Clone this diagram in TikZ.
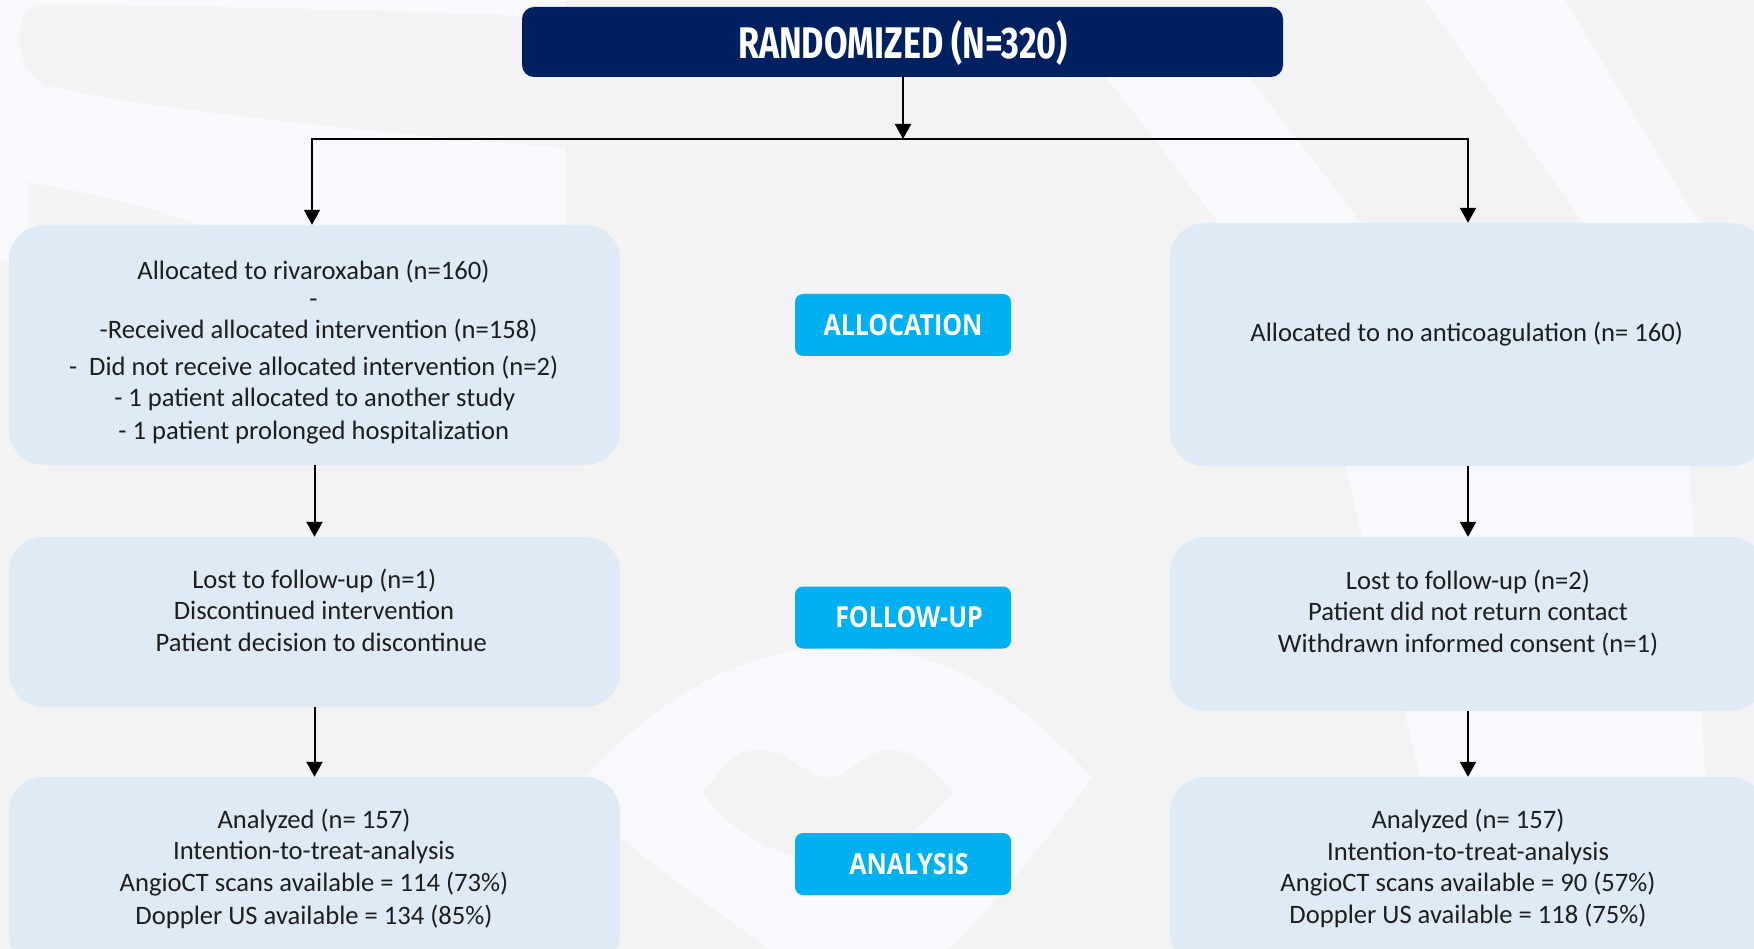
\documentclass[tikz,border=0pt]{standalone}
\usepackage{fontspec}
\usepackage{graphicx}
\setmainfont{Carlito}
\newfontfamily\labfont{Open Sans}
\newfontfamily\ttlfont{Fira Sans}
\usetikzlibrary{arrows.meta}
\definecolor{navy}{HTML}{012060}
\definecolor{cyanlab}{HTML}{00B0F0}
\definecolor{boxfill}{HTML}{DEEAF6}
\definecolor{bggray}{HTML}{F3F3F4}
\definecolor{bgwhite}{HTML}{F8F9FC}
\definecolor{txt}{HTML}{1E1E1E}
\newcommand{\phaselabel}[1]{\scalebox{0.86}[1]{#1}}
\begin{document}
\begin{tikzpicture}[x=1pt,y=-1pt,
  flowbox/.style={fill=boxfill, rounded corners=35pt, inner sep=0pt},
  phase/.style={fill=cyanlab, rounded corners=8pt, minimum width=216pt, minimum height=62pt, inner sep=0pt,
    text=white, font=\labfont\bfseries\fontsize{29}{32}\selectfont},
  body/.style={text=txt, font=\fontsize{26.6}{32}\selectfont, inner sep=0pt, anchor=base},
  arr/.style={line width=2pt, -{Triangle[width=16pt,length=15pt]}},
  link/.style={line width=2pt}
]
\useasboundingbox (0,0) rectangle (1754,949);
\clip (0,0) rectangle (1754,949);
% background watermark
\fill[bggray] (0,0) rectangle (1754,949);
\fill[bgwhite, rounded corners=30pt] (-40,-40) -- (566,-40) -- (566,260) -- (-40,260) -- cycle;
\fill[bggray] (40,4) .. controls (200,6) and (400,10) .. (620,20) -- (620,152) .. controls (350,132) and (120,105) .. (45,85) .. controls (12,70) and (12,8) .. (40,4) -- cycle;
\fill[bggray] (28,182) .. controls (100,195) and (160,210) .. (200,225) -- (28,225) -- cycle;
\fill[bgwhite] (1425,0) -- (1565,0) -- (1700,225) -- (1585,225) -- cycle;
\fill[bgwhite] (1106,77) -- (1249,77) -- (1380,247) -- (1237,247) -- cycle;
\fill[bgwhite] (1345,466) -- (1690,466) -- (1705,777) -- (1420,777) -- cycle;
\fill[bgwhite] (580,780) .. controls (640,720) and (720,648) .. (840,647) .. controls (950,647) and (1020,700) .. (1092,777) .. controls (1040,850) and (990,910) .. (948,949) -- (770,949) .. controls (700,900) and (630,850) .. (580,800) -- cycle;
\fill[bggray] (703,793) .. controls (720,770) and (735,750) .. (755,750) .. controls (790,750) and (805,777) .. (828,777) .. controls (850,777) and (865,750) .. (890,750) .. controls (915,750) and (935,770) .. (953,793) .. controls (920,830) and (880,860) .. (828,860) .. controls (775,860) and (730,830) .. (703,793) -- cycle;

% title
\node[fill=navy, rounded corners=12pt, minimum width=761pt, minimum height=70pt, inner sep=0pt] (rand) at (902.5,42) {};
\node[text=white, inner sep=0pt, anchor=base] (randtxt) at (903,58.5) {\resizebox{330pt}{\height}{\ttlfont\bfseries\fontsize{44.3}{50}\selectfont RANDOMIZED (N=320)}};

% boxes
\node[flowbox, minimum width=611pt, minimum height=240pt] (L1) at (314.5,345) {};
\node[flowbox, minimum width=596pt, minimum height=243pt] (R1) at (1468,344.5) {};
\node[flowbox, minimum width=611pt, minimum height=170pt] (L2) at (314.5,622) {};
\node[flowbox, minimum width=596pt, minimum height=174pt] (R2) at (1468,624) {};
\node[flowbox, minimum width=611pt, minimum height=190pt] (L3) at (314.5,872) {};
\node[flowbox, minimum width=596pt, minimum height=190pt] (R3) at (1468,872) {};

% phase labels
\node[phase] (alloc) at (903,325) {\phaselabel{ALLOCATION}};
\node[phase] (follow) at (903,617.5) {\hspace*{12pt}\phaselabel{FOLLOW-UP}};
\node[phase] (analysis) at (903,864) {\hspace*{12pt}\phaselabel{ANALYSIS}};

% texts
\node[body] (l1a) at (313.5,280) {Allocated to rivaroxaban (n=160)};
\node[body] (l1b) at (313.5,307.5) {-};
\node[body] (l1c) at (318.6,338.3) {-Received allocated intervention (n=158)};
\node[body] (l1d) at (313.7,375.7) {-\hspace{12pt}Did not receive allocated intervention (n=2)};
\node[body] (l1e) at (314.8,406.8) {- 1 patient allocated to another study};
\node[body] (l1f) at (313.8,439.3) {- 1 patient prolonged hospitalization};

\node[body] (r1a) at (1466.7,341.7) {Allocated to no anticoagulation (n= 160)};

\node[body] (l2a) at (314.3,588.3) {Lost to follow-up (n=1)};
\node[body] (l2b) at (314,619.3) {Discontinued intervention};
\node[body] (l2c) at (321.3,651) {Patient decision to discontinue};

\node[body] (r2a) at (1468,589.3) {Lost to follow-up (n=2)};
\node[body] (r2b) at (1468,620) {Patient did not return contact};
\node[body] (r2c) at (1468,652.7) {Withdrawn informed consent (n=1)};

\node[body] (l3a) at (314,828.3) {Analyzed (n= 157)};
\node[body] (l3b) at (314,859.3) {Intention-to-treat-analysis};
\node[body] (l3c) at (314,891.7) {AngioCT scans available = 114 (73\%)};
\node[body] (l3d) at (314,924) {Doppler US available = 134 (85\%)};

\node[body] (r3a) at (1468,828.3) {Analyzed (n= 157)};
\node[body] (r3b) at (1468,860) {Intention-to-treat-analysis};
\node[body] (r3c) at (1468,891.7) {AngioCT scans available = 90 (57\%)};
\node[body] (r3d) at (1468,923.3) {Doppler US available = 118 (75\%)};

% connectors
\coordinate (split) at (903,139);
\coordinate (lsplit) at (312,139);
\coordinate (rsplit) at (1468,139);
\draw[arr] (rand.south -| split) -- (split);
\draw[arr] (split) -- (lsplit) -- (lsplit |- L1.north);
\draw[arr] (split) -- (rsplit) -- (rsplit |- R1.north);
\draw[arr] (L1.south) -- (L2.north);
\draw[arr] (R1.south) -- (R2.north);
\draw[arr] (L2.south) -- (L3.north);
\draw[arr] (R2.south) -- (R3.north);
\end{tikzpicture}
\end{document}
